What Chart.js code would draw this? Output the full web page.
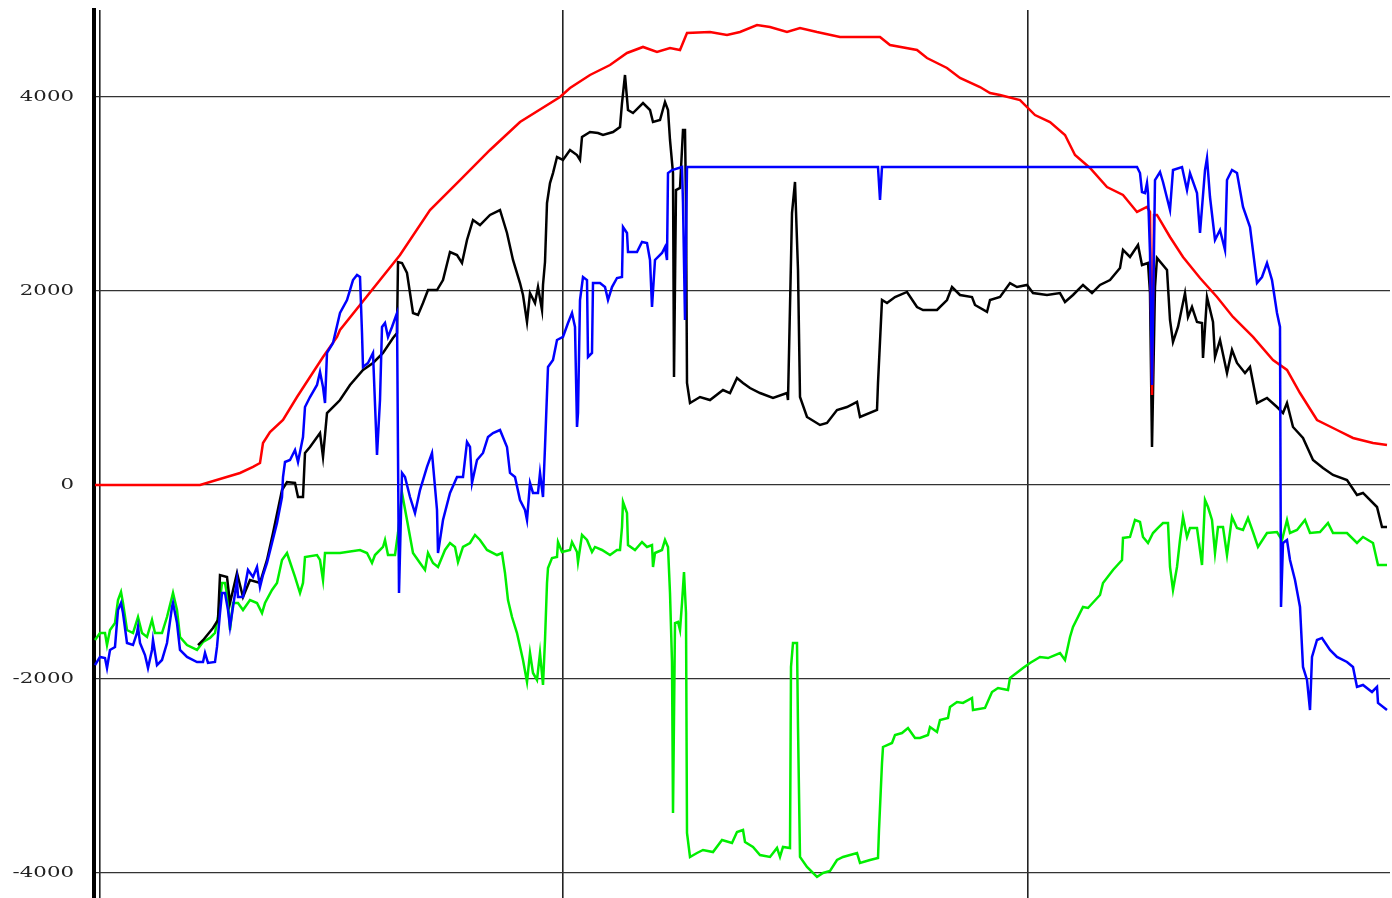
<!DOCTYPE html>
<html>
<head>
<meta charset="utf-8">
<script src="https://cdn.jsdelivr.net/npm/chart.js@4.4.1/dist/chart.umd.min.js"></script>
<style>
  html, body { margin: 0; padding: 0; background: #fff; overflow: hidden; }
  #wrap { position: relative; width: 1392px; height: 898px; }
</style>
</head>
<body>
<div id="wrap"><canvas id="chart" width="1392" height="898"></canvas></div>
<script>
// tick values / grid positions (x = sample index)
const yTicks = [4000, 2000, 0, -2000, -4000];
const xGrid = [5, 468, 933];

// red series
const redT = [0,105,145,158,165,168,175,188,202,215,
  228,242,245,305,335,365,395,425,465,475,
  495,515,532,548,562,575,585,592,615,632,
  645,662,675,692,705,722,745,765,785,795,
  822,832,852,865,885,895,905,925,940,955,
  970,980,995,1012,1028,1042,1052,1055,1057,1059,
  1062,1075,1088,1105,1122,1138,1158,1178,1192,1205,
  1222,1242,1258,1278,1292];
const redW = [0,0,124,186,227,433,546,670,907,1113,
  1320,1526,1598,2371,2835,3144,3454,3742,4000,4093,
  4227,4330,4454,4516,4464,4505,4485,4660,4670,4639,
  4670,4742,4722,4670,4712,4670,4619,4619,4619,4536,
  4485,4402,4299,4196,4103,4041,4021,3969,3814,3742,
  3608,3402,3268,3072,2990,2815,2866,2815,928,2784,
  2784,2557,2351,2134,1938,1732,1526,1289,1186,948,
  670,567,485,433,412];

// black series
const blackT = [103,108,118,123,125,132,135,142,148,155,
  165,172,178,187,192,200,203,208,210,215,
  225,228,232,242,245,255,268,278,288,298,
  302,303,307,312,318,323,328,333,342,348,
  355,362,367,372,378,385,395,405,412,418,
  425,428,432,435,440,443,447,448,450,452,
  455,458,462,468,475,482,485,487,495,503,
  508,518,525,527,530,533,538,548,555,558,
  565,570,573,575,578,579,581,585,588,590,
  591,592,595,605,615,628,635,642,648,655,
  665,678,692,693,697,700,703,705,712,725,
  732,742,752,762,765,782,783,787,792,800,
  812,822,828,842,852,857,865,877,880,892,
  895,905,915,922,932,938,952,965,970,978,
  988,997,1005,1015,1025,1028,1035,1043,1047,1053,
  1055,1057,1060,1062,1072,1075,1078,1083,1090,1093,
  1097,1102,1107,1108,1112,1118,1120,1125,1132,1137,
  1142,1150,1155,1162,1172,1182,1188,1192,1198,1208,
  1218,1228,1238,1252,1262,1268,1282,1287,1292];
const blackW = [-1650,-1600,-1474,-1392,-928,-948,-1217,-907,-1155,-979,
  -1010,-773,-495,-52,31,21,-124,-124,330,392,
  536,289,742,845,876,1031,1186,1258,1361,1515,
  1567,2299,2289,2186,1773,1753,1876,2010,2010,2113,
  2402,2371,2289,2526,2732,2680,2784,2835,2598,2320,
  2082,1959,1680,1979,1876,2041,1804,2062,2299,2907,
  3113,3216,3381,3351,3454,3402,3351,3588,3639,3629,
  3608,3639,3691,3938,4227,3866,3835,3938,3866,3742,
  3763,3949,3866,3557,3216,1113,3041,3062,3660,3660,
  2907,1052,845,907,876,979,948,1103,1052,1000,
  948,897,948,876,2804,3124,2216,907,701,619,
  639,773,804,856,701,773,1052,1907,1876,1938,
  1990,1835,1804,1804,1907,2041,1959,1938,1856,1784,
  1907,1938,2082,2041,2062,1979,1959,1979,1887,1959,
  2062,1979,2062,2113,2237,2423,2351,2474,2268,2289,
  1979,392,2041,2340,2216,1701,1474,1629,1979,1732,
  1835,1680,1670,1309,1938,1680,1320,1495,1155,1392,
  1258,1155,1217,845,897,804,742,845,598,485,
  258,175,103,52,-103,-82,-227,-433,-433];

// blue series
const blueT = [0,5,10,12,15,20,23,26,28,32,
  38,42,43,45,50,53,57,58,62,67,
  72,77,78,82,85,92,102,108,110,113,
  120,122,125,127,130,133,135,138,142,143,
  148,153,158,162,165,168,172,177,182,187,
  188,190,195,200,203,208,210,215,222,225,
  228,230,232,238,245,252,258,262,265,267,
  268,273,278,282,285,287,290,293,297,302,
  304,307,310,315,320,325,332,337,342,343,
  348,355,362,368,372,375,377,382,388,393,
  398,405,412,415,420,425,430,432,435,438,
  443,445,448,450,453,458,462,468,473,477,
  480,482,483,485,488,492,493,497,498,505,
  510,513,517,522,527,528,532,533,542,547,
  552,555,557,560,567,570,572,573,577,587,
  588,590,592,783,785,787,1042,1045,1047,1050,
  1052,1053,1055,1057,1060,1065,1068,1075,1078,1087,
  1092,1095,1102,1105,1110,1112,1115,1120,1125,1130,
  1132,1137,1142,1148,1155,1162,1167,1172,1177,1182,
  1185,1186,1188,1192,1195,1200,1205,1208,1212,1215,
  1217,1222,1227,1235,1242,1252,1258,1262,1268,1277,
  1282,1283,1292];
const blueW = [-1856,-1773,-1784,-1887,-1701,-1670,-1289,-1217,-1320,-1629,
  -1650,-1526,-1464,-1629,-1753,-1887,-1701,-1598,-1856,-1804,
  -1629,-1258,-1217,-1423,-1701,-1773,-1825,-1825,-1732,-1835,
  -1825,-1670,-1320,-1113,-1113,-1289,-1464,-1258,-979,-1155,
  -1155,-876,-948,-845,-1052,-928,-804,-598,-392,-124,
  82,237,258,361,237,495,804,907,1031,1165,
  1010,845,1361,1464,1773,1907,2113,2165,2144,1567,
  1217,1258,1361,309,876,1629,1670,1526,1629,1773,
  -1113,124,82,-124,-289,-52,186,330,-258,-701,
  -361,-82,82,82,443,392,21,258,330,495,
  536,567,392,124,82,-155,-258,-361,21,-82,
  -82,124,-124,392,1217,1289,1495,1526,1670,1773,
  1629,598,742,1907,2144,2113,1320,1361,2082,2082,
  2041,1907,2041,2134,2144,2660,2598,2402,2402,2505,
  2495,2320,1835,2320,2392,2454,2320,3216,3247,3278,
  2907,1701,3278,3278,2938,3278,3278,3216,3021,3010,
  3113,3010,2392,1031,3144,3227,3124,2835,3247,3278,
  3041,3216,3010,2598,3247,3371,2969,2526,2629,2423,
  3144,3247,3216,2866,2660,2082,2144,2289,2113,1773,
  1629,-1258,-598,-567,-773,-979,-1258,-1876,-2010,-2320,
  -1773,-1598,-1577,-1701,-1773,-1825,-1876,-2082,-2062,-2134,
  -2082,-2247,-2320];

// green series
const greenT = [0,5,10,12,15,20,23,26,28,32,
  38,43,47,52,57,60,67,72,77,78,
  82,85,92,102,108,115,120,123,127,130,
  133,135,138,143,148,155,162,167,170,177,
  182,187,192,195,200,205,208,210,222,225,
  228,230,245,265,272,277,280,288,290,293,
  300,303,307,312,318,325,330,333,338,343,
  350,355,360,363,368,375,380,385,392,402,
  407,410,413,417,422,428,432,435,438,442,
  445,448,450,452,453,457,462,463,467,475,
  477,482,483,487,492,497,500,507,515,522,
  525,527,528,532,533,540,547,552,557,558,
  560,567,570,573,575,577,578,580,583,585,
  587,589,591,592,595,602,608,618,627,637,
  642,648,650,658,665,675,682,685,688,695,
  696,698,702,703,705,712,722,728,735,742,
  748,762,765,775,783,784,787,788,797,800,
  807,813,820,825,833,835,842,845,853,855,
  862,868,877,878,890,897,903,913,915,928,
  935,945,953,965,970,975,978,988,993,1005,
  1008,1018,1027,1028,1035,1040,1045,1048,1053,1058,
  1063,1068,1073,1075,1078,1082,1085,1088,1092,1095,
  1102,1107,1110,1113,1117,1120,1123,1128,1132,1137,
  1142,1148,1153,1158,1163,1172,1182,1187,1192,1195,
  1202,1210,1215,1225,1233,1238,1252,1262,1268,1278,
  1283,1292];
const greenW = [-1598,-1526,-1526,-1650,-1495,-1423,-1186,-1103,-1217,-1495,
  -1526,-1361,-1526,-1567,-1392,-1526,-1526,-1361,-1155,-1113,
  -1289,-1567,-1650,-1701,-1619,-1577,-1526,-1361,-1010,-1010,
  -1186,-1495,-1217,-1217,-1289,-1186,-1217,-1320,-1217,-1082,
  -1010,-773,-701,-794,-948,-1113,-1010,-742,-722,-773,
  -979,-701,-701,-670,-701,-804,-722,-639,-567,-722,
  -722,-495,-82,-361,-701,-804,-876,-701,-804,-845,
  -670,-598,-639,-794,-639,-598,-515,-567,-670,-722,
  -701,-907,-1186,-1361,-1526,-1804,-2031,-1732,-1938,-2010,
  -1732,-2062,-1598,-1010,-856,-753,-742,-588,-691,-670,
  -588,-691,-794,-515,-567,-691,-639,-670,-722,-670,
  -670,-433,-175,-289,-619,-670,-588,-639,-619,-845,
  -701,-670,-567,-639,-1113,-1825,-3381,-1423,-1412,-1495,
  -1217,-897,-1320,-3588,-3835,-3794,-3763,-3784,-3660,-3691,
  -3577,-3557,-3680,-3732,-3815,-3835,-3742,-3835,-3732,-3742,
  -1876,-1629,-1629,-2495,-3835,-3938,-4041,-4000,-3979,-3866,
  -3835,-3794,-3897,-3866,-3845,-3557,-2866,-2701,-2660,-2577,
  -2557,-2505,-2608,-2608,-2577,-2495,-2546,-2423,-2402,-2289,
  -2237,-2247,-2196,-2320,-2299,-2134,-2093,-2113,-1990,-1887,
  -1835,-1773,-1784,-1732,-1804,-1567,-1464,-1258,-1268,-1134,
  -1010,-876,-773,-546,-536,-361,-381,-536,-598,-495,
  -443,-392,-392,-845,-1082,-845,-567,-330,-536,-443,
  -443,-825,-155,-227,-361,-701,-433,-433,-722,-330,
  -443,-464,-340,-485,-639,-495,-485,-567,-361,-495,
  -464,-361,-495,-485,-392,-495,-495,-598,-536,-598,
  -825,-825];

function pts(t, w) {
  return t.map((x, i) => ({ x: x, y: w[i] }));
}

function series(data, color, order) {
  return {
    data: data,
    borderColor: color,
    borderWidth: 2.5,
    pointRadius: 0,
    tension: 0,
    fill: false,
    order: order
  };
}

// y labels drawn a bit stretched like the original
const yLabels = {
  id: 'yLabels',
  afterDraw(chart) {
    const ctx = chart.ctx;
    const sc = chart.scales.y;
    ctx.save();
    ctx.font = '15px "DejaVu Serif"';
    ctx.fillStyle = '#222';
    ctx.textAlign = 'right';
    ctx.textBaseline = 'middle';
    yTicks.forEach(v => {
      const py = sc.getPixelForValue(v);
      ctx.save();
      ctx.translate(74, py);
      ctx.scale(1.42, 1);
      ctx.fillText(String(v), 0, 0);
      ctx.restore();
    });
    ctx.restore();
  }
};

new Chart(document.getElementById('chart'), {
  type: 'line',
  data: {
    datasets: [
      series(pts(blueT, blueW), '#0000ff', 0),
      series(pts(redT, redW), '#ff0000', 1),
      series(pts(blackT, blackW), '#000000', 2),
      series(pts(greenT, greenW), '#00ee00', 3)
    ]
  },
  options: {
    responsive: false,
    animation: false,
    events: [],
    layout: { padding: { top: 10, right: 2, left: 0, bottom: 0 } },
    plugins: { legend: { display: false }, tooltip: { enabled: false } },
    scales: {
      x: {
        type: 'linear',
        min: -1,
        max: 1295,
        afterBuildTicks: s => { s.ticks = xGrid.map(v => ({ value: v })); },
        afterFit: s => { s.height = 0; },
        ticks: { display: false },
        grid: { color: '#222', lineWidth: 1.6, drawTicks: false },
        border: { display: false }
      },
      y: {
        min: -4258,
        max: 4897,
        afterBuildTicks: s => { s.ticks = yTicks.map(v => ({ value: v })); },
        afterFit: s => { s.width = 94; },
        ticks: { display: false },
        grid: { color: '#333', lineWidth: 1.2, drawTicks: false },
        border: { display: true, color: '#000', width: 4 }
      }
    }
  },
  plugins: [yLabels]
});
</script>
</body>
</html>
